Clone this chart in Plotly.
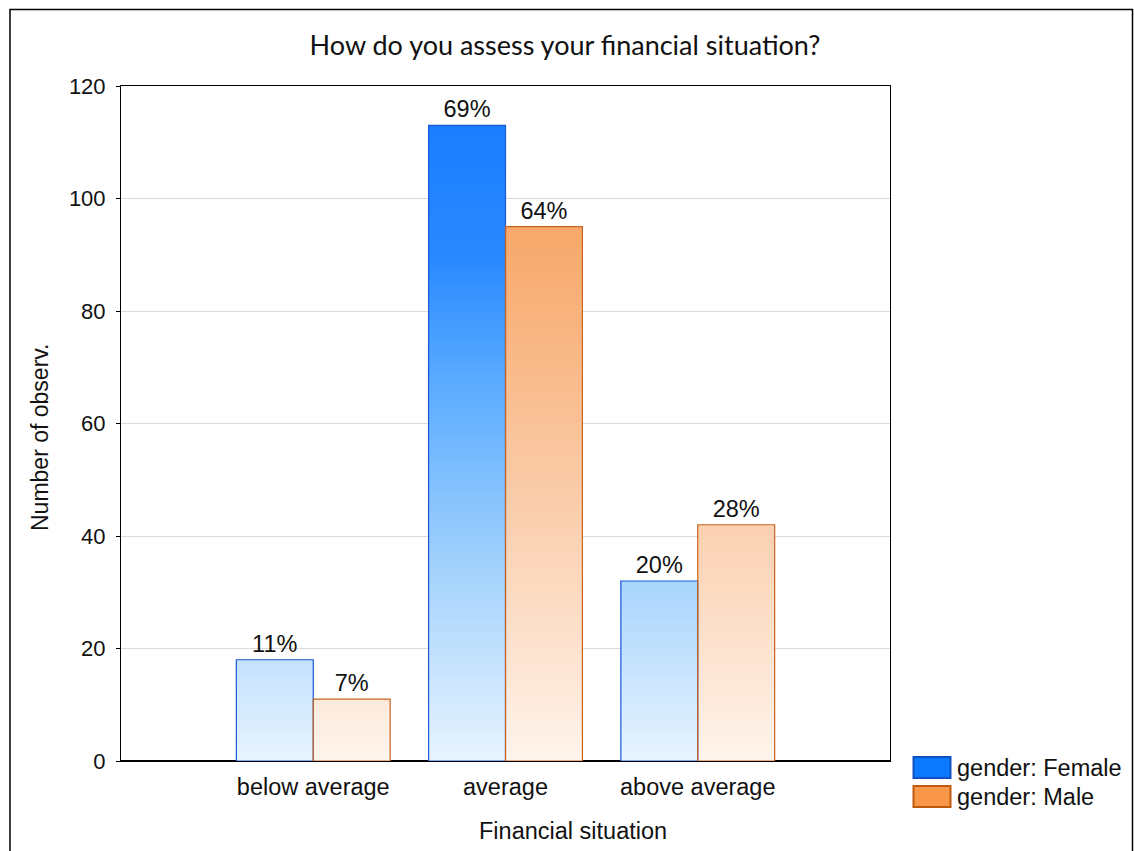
import plotly.graph_objects as go

categories = ["below average", "average", "above average"]
female = [18, 113, 32]
male = [11, 95, 42]
female_pct = ["11%", "69%", "20%"]
male_pct = ["7%", "64%", "28%"]
series_names = ["gender: Female", "gender: Male"]

# gradient stops (data value, rgb)
female_stops = [(0, (232, 244, 255)), (32, (168, 212, 252)), (60, (106, 180, 255)),
                (75, (74, 160, 255)), (90, (40, 136, 255)), (113, (28, 126, 255))]
male_stops = [(0, (255, 244, 236)), (11, (253, 234, 220)), (42, (250, 208, 176)),
              (80, (248, 178, 124)), (95, (247, 168, 106))]


def color_at(v, stops):
    if v <= stops[0][0]:
        c = stops[0][1]
    elif v >= stops[-1][0]:
        c = stops[-1][1]
    else:
        for (a, ca), (b, cb) in zip(stops[:-1], stops[1:]):
            if a <= v <= b:
                t = (v - a) / (b - a)
                c = tuple(ca[i] + (cb[i] - ca[i]) * t for i in range(3))
                break
    return "rgb(%d,%d,%d)" % tuple(round(x) for x in c)


fig = go.Figure()
dy = 1.0
ARIAL = "Liberation Sans, Arial"


def add_gradient(values, stops, group):
    top = max(values)
    k = 0
    while k * dy < top:
        base = k * dy
        ys = []
        for v in values:
            h = min(dy * 1.8, v - base)
            ys.append(h if h > 0 else None)
        fig.add_trace(go.Bar(x=categories, y=ys, base=[base] * len(values),
                             offsetgroup=group, showlegend=False, hoverinfo="skip",
                             marker=dict(color=color_at(base + dy / 2, stops), line=dict(width=0))))
        k += 1


add_gradient(female, female_stops, "F")
add_gradient(male, male_stops, "M")

fig.add_trace(go.Bar(x=categories, y=female, offsetgroup="F", name=series_names[0], showlegend=False,
                     marker=dict(color="rgba(0,0,0,0)", line=dict(color="#1a5ad8", width=1.2)),
                     text=female_pct, textposition="outside", cliponaxis=False,
                     textfont=dict(family=ARIAL, size=23.5, color="#111")))
fig.add_trace(go.Bar(x=categories, y=male, offsetgroup="M", name=series_names[1], showlegend=False,
                     marker=dict(color="rgba(0,0,0,0)", line=dict(color="#c8641e", width=1.2)),
                     text=male_pct, textposition="outside", cliponaxis=False,
                     textfont=dict(family=ARIAL, size=23.5, color="#111")))

fig.update_layout(
    width=1134, height=851,
    margin=dict(l=121, r=244, t=86, b=90),
    paper_bgcolor="white", plot_bgcolor="white",
    barmode="group", bargap=0.2, bargroupgap=0,
    font=dict(family=ARIAL, size=22, color="#111"),
    title=dict(text="How do you assess your financial situation?", x=565 / 1134, xanchor="center",
               y=1 - 46 / 851, yanchor="middle", font=dict(size=27, family="Lato, Open Sans", color="#111")),
    showlegend=False,
)
fig.update_xaxes(type="category", range=[-1, 3], showline=True, linecolor="black", linewidth=1,
                 mirror=True, ticks="", showgrid=False, tickfont=dict(size=23.5), ticklabelstandoff=5)
fig.update_yaxes(range=[0, 120], dtick=20, showline=True, linecolor="black", linewidth=1, mirror=True,
                 ticks="outside", ticklen=4, tickcolor="black", showgrid=True, gridcolor="#d9d9d9",
                 zeroline=True, zerolinecolor="black", zerolinewidth=1.5, tickfont=dict(size=22),
                 ticklabelstandoff=6)


def px_x(p):
    return (p - 121) / 769


def px_y(p):
    return (761 - p) / 675


# axis titles
fig.add_annotation(xref="paper", yref="paper", x=px_x(573), y=px_y(831), text="Financial situation",
                   showarrow=False, xanchor="center", yanchor="middle",
                   font=dict(family=ARIAL, size=23.5, color="#111"))
fig.add_annotation(xref="paper", yref="paper", x=px_x(40), y=px_y(438), text="Number of observ.",
                   showarrow=False, xanchor="center", yanchor="middle", textangle=-90,
                   font=dict(family=ARIAL, size=23, color="#111"))

# outer frame
fig.add_shape(type="rect", xref="paper", yref="paper",
              x0=px_x(10), x1=px_x(1132.5),
              y0=-0.3, y1=px_y(9.5), line=dict(color="black", width=1.5), layer="below")

# custom legend
legend_items = [(series_names[0], "#0a78ff", "#1050c0", 757, 778),
                (series_names[1], "#f89848", "#c05810", 786, 807)]
for name, fill, edge, top, bot in legend_items:
    fig.add_shape(type="rect", xref="paper", yref="paper",
                  x0=px_x(913.5), x1=px_x(950.5), y0=px_y(bot), y1=px_y(top),
                  fillcolor=fill, line=dict(color=edge, width=2))
    fig.add_annotation(xref="paper", yref="paper", x=px_x(955), y=px_y((top + bot) / 2),
                       text=name, showarrow=False, xanchor="left", yanchor="middle",
                       font=dict(family=ARIAL, size=23.5, color="#111"))

fig.write_html("out.html")
